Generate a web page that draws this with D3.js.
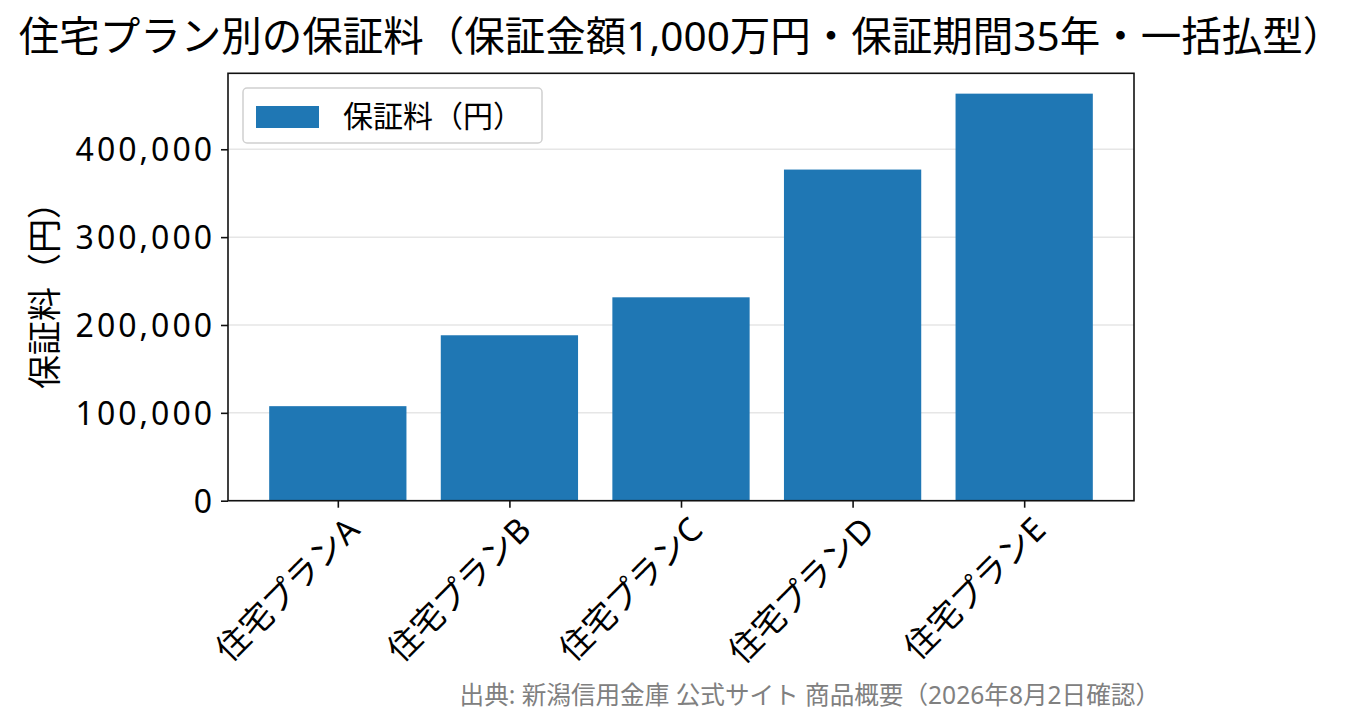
<!DOCTYPE html>
<meta charset="utf-8">
<head>
    <title>住宅プラン別の保証料</title>
</head>
<style>
body { margin: 0; background: #fff; }
text { font-family: "Noto Sans", "Noto Sans CJK JP", sans-serif; fill: #000; }
</style>

<script src="https://d3js.org/d3.v7.min.js"></script>

<div id="chart"></div>

<script>
// data
var plans = ["住宅プランA", "住宅プランB", "住宅プランC", "住宅プランD", "住宅プランE"];
var fees = [107600, 188300, 231500, 376900, 463300];
var yTicks = [0, 100000, 200000, 300000, 400000];

var titleText = "住宅プラン別の保証料（保証金額1,000万円・保証期間35年・一括払型）";
var yLabel = "保証料（円）";
var legendLabel = "保証料（円）";
var sourceText = "出典: 新潟信用金庫 公式サイト 商品概要（2026年8月2日確認）";

var W = 1362, H = 725;
var plot = {left: 228, top: 73.3, right: 1134, bottom: 500.7};

var svg = d3.select("#chart")
  .append("svg")
    .attr("width", W)
    .attr("height", H);

// scales: matplotlib-like margins around bars of width 0.8
var x = d3.scaleLinear()
    .domain([-0.64, plans.length - 1 + 0.64])
    .range([plot.left, plot.right]);

var y = d3.scaleLinear()
    .domain([0, d3.max(fees) * 1.05])
    .range([plot.bottom, plot.top]);

var barW = x(0.8) - x(0);

// grid lines
svg.append("g")
  .selectAll("line")
  .data(yTicks)
  .enter()
  .append("line")
    .attr("x1", plot.left)
    .attr("x2", plot.right)
    .attr("y1", function(d) { return y(d); })
    .attr("y2", function(d) { return y(d); })
    .attr("stroke", "#e6e6e6")
    .attr("stroke-width", 1.5);

// bars
svg.selectAll("rect.bar")
  .data(fees)
  .enter()
  .append("rect")
    .attr("class", "bar")
    .attr("x", function(d, i) { return x(i) - barW / 2; })
    .attr("y", function(d) { return y(d); })
    .attr("width", barW)
    .attr("height", function(d) { return y(0) - y(d); })
    .attr("fill", "#1f77b4");

// frame
svg.append("rect")
    .attr("x", plot.left)
    .attr("y", plot.top)
    .attr("width", plot.right - plot.left)
    .attr("height", plot.bottom - plot.top)
    .attr("fill", "none")
    .attr("stroke", "#111")
    .attr("stroke-width", 1.6);

// y axis
var yAxis = svg.append("g")
    .attr("transform", "translate(" + plot.left + ",0)")
    .call(d3.axisLeft(y).tickValues(yTicks).tickFormat(d3.format(",")).tickSize(7).tickPadding(6));
yAxis.select(".domain").remove();
yAxis.selectAll(".tick line").attr("stroke", "#111").attr("stroke-width", 1.6);
yAxis.selectAll(".tick text")
    .style("font-size", "32px")
    .style("letter-spacing", "3px")
    .attr("dy", "0.36em");

// x axis
var xAxis = svg.append("g")
    .attr("transform", "translate(0," + plot.bottom + ")")
    .call(d3.axisBottom(x).tickValues(d3.range(plans.length)).tickFormat(function(i) { return plans[i]; }).tickSize(7));
xAxis.select(".domain").remove();
xAxis.selectAll(".tick line").attr("stroke", "#111").attr("stroke-width", 1.6);
xAxis.selectAll(".tick text")
    .style("font-size", "33px")
    .style("text-anchor", "end")
    .attr("y", 0)
    .attr("dy", 0)
    .attr("transform", "translate(4,12) rotate(-45) translate(0,27)");

// y label
svg.append("text")
    .attr("transform", "translate(57," + ((plot.top + plot.bottom) / 2) + ") rotate(-90)")
    .attr("text-anchor", "middle")
    .style("font-size", "34px")
    .text(yLabel);

// title
svg.append("text")
    .attr("x", W / 2)
    .attr("y", 51)
    .attr("text-anchor", "middle")
    .style("font-size", "40.5px")
    .text(titleText);

// legend
var lg = svg.append("g");
lg.append("rect")
    .attr("x", 243)
    .attr("y", 88)
    .attr("width", 299)
    .attr("height", 55)
    .attr("rx", 4)
    .attr("fill", "#fff")
    .attr("fill-opacity", 0.8)
    .attr("stroke", "#d0d0d0")
    .attr("stroke-width", 1.5);
lg.append("rect")
    .attr("x", 256)
    .attr("y", 106)
    .attr("width", 63)
    .attr("height", 22)
    .attr("fill", "#1f77b4");
lg.append("text")
    .attr("x", 343)
    .attr("y", 127)
    .style("font-size", "30px")
    .text(legendLabel);

// source note
svg.append("text")
    .attr("x", 1160)
    .attr("y", 704)
    .attr("text-anchor", "end")
    .style("font-size", "24.6px")
    .style("fill", "#808080")
    .text(sourceText);
</script>
